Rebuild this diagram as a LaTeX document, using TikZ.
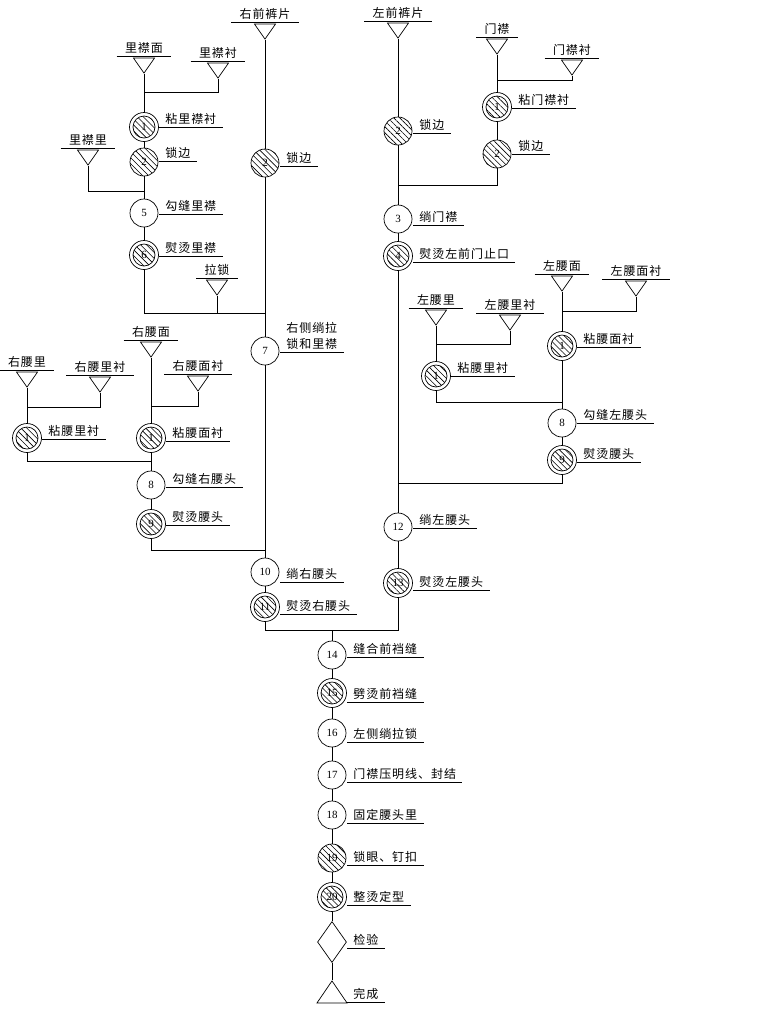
\documentclass[tikz,border=0pt]{standalone}
\usepackage{fontspec}
\setmainfont{Liberation Serif}
\newfontfamily\cjk[LetterSpace=8]{Noto Sans CJK SC}
\usetikzlibrary{shapes.geometric,patterns.meta}
\begin{document}
\begin{tikzpicture}[x=1pt,y=-1pt,line width=0.7pt,
  hatch/.style={pattern={Lines[angle=-45,distance=4.2pt,line width=0.6pt]}},
  plain/.style={circle,draw,minimum size=28pt,inner sep=0pt,font=\fontsize{11}{12}\selectfont},
  hcirc/.style={plain,hatch},
  dcirc/.style={plain,minimum size=29pt,path picture={
      \fill[hatch] (path picture bounding box.center) circle (11pt);
      \draw[line width=0.7pt] (path picture bounding box.center) circle (11pt);}},
  tri/.style={isosceles triangle,isosceles triangle stretches,shape border rotate=-90,
      draw,minimum width=21pt,minimum height=15pt,inner sep=0pt,anchor=apex},
  lbl/.style={anchor=south west,inner xsep=6pt,inner ysep=2pt,align=left,
      font=\cjk\fontsize{12}{16}\selectfont,
      append after command={(\tikzlastnode.south west) edge (\tikzlastnode.south east)}},
  mat/.style={anchor=south,inner xsep=8pt,inner ysep=2pt,
      font=\cjk\fontsize{12}{14}\selectfont,
      append after command={(\tikzlastnode.south west) edge (\tikzlastnode.south east)}}]
\useasboundingbox (0,0) rectangle (760,1013);

% ---------- triangles (materials) ----------
\node[tri] (tRF) at (265,40) {};
\node[tri] (tLM) at (144,74) {};
\node[tri] (tLC) at (218,79) {};
\node[tri] (tLL) at (88,166) {};
\node[tri] (tZ) at (217,296) {};
\node[tri] (tLF) at (398,39) {};
\node[tri] (tMJ) at (497,55) {};
\node[tri] (tMJC) at (572,76) {};
\node[tri] (tLWM) at (562,292) {};
\node[tri] (tLWMC) at (636,297) {};
\node[tri] (tLWL) at (436,326) {};
\node[tri] (tLWLC) at (510,331) {};
\node[tri] (tRWL) at (27,388) {};
\node[tri] (tRWLC) at (100,393) {};
\node[tri] (tRWM) at (151,358) {};
\node[tri] (tRWMC) at (198,392) {};

\node[mat] (mRF) at ([shift={(0,-18)}]tRF.apex) {右前裤片};
\node[mat] (mLM) at ([shift={(0,-18)}]tLM.apex) {里襟面};
\node[mat] (mLC) at ([shift={(0,-18)}]tLC.apex) {里襟衬};
\node[mat] (mLL) at ([shift={(0,-18)}]tLL.apex) {里襟里};
\node[mat] (mZ) at ([shift={(0,-18)}]tZ.apex) {拉锁};
\node[mat] (mLF) at ([shift={(0,-18)}]tLF.apex) {左前裤片};
\node[mat] (mMJ) at ([shift={(0,-18)}]tMJ.apex) {门襟};
\node[mat] (mMJC) at ([shift={(0,-18)}]tMJC.apex) {门襟衬};
\node[mat] (mLWM) at ([shift={(0,-18)}]tLWM.apex) {左腰面};
\node[mat] (mLWMC) at ([shift={(0,-18)}]tLWMC.apex) {左腰面衬};
\node[mat] (mLWL) at ([shift={(0,-18)}]tLWL.apex) {左腰里};
\node[mat] (mLWLC) at ([shift={(0,-18)}]tLWLC.apex) {左腰里衬};
\node[mat] (mRWL) at ([shift={(0,-18)}]tRWL.apex) {右腰里};
\node[mat] (mRWLC) at ([shift={(0,-18)}]tRWLC.apex) {右腰里衬};
\node[mat] (mRWM) at ([shift={(0,-18)}]tRWM.apex) {右腰面};
\node[mat] (mRWMC) at ([shift={(0,-18)}]tRWMC.apex) {右腰面衬};

% ---------- process circles ----------
\node[dcirc] (c1a) at (144,127) {1};
\node[hcirc] (c2a) at (144,162) {2};
\node[plain] (c5) at (144,213) {5};
\node[dcirc] (c6) at (144,255) {6};
\node[hcirc] (c2R) at (265,163) {2};
\node[plain] (c7) at (265,351) {7};
\node[plain] (c10) at (265,572) {10};
\node[dcirc] (c11) at (265,607) {11};
\node[hcirc] (c2L) at (398,131) {2};
\node[dcirc] (c1M) at (497,107) {1};
\node[hcirc] (c2M) at (497,154) {2};
\node[plain] (c3) at (398,219) {3};
\node[dcirc] (c4) at (398,256) {4};
\node[dcirc] (c1LW) at (562,346) {1};
\node[dcirc] (c1LL) at (436,376) {1};
\node[plain] (c8L) at (562,423) {8};
\node[dcirc] (c9L) at (562,460) {9};
\node[plain] (c12) at (398,527) {12};
\node[dcirc] (c13) at (398,583) {13};
\node[dcirc] (c1RL) at (27,438) {1};
\node[dcirc] (c1RM) at (151,438) {1};
\node[plain] (c8R) at (151,485) {8};
\node[dcirc] (c9R) at (151,524) {9};
\node[plain] (c14) at (332,655) {14};
\node[dcirc] (c15) at (332,693) {15};
\node[plain] (c16) at (332,733) {16};
\node[plain] (c17) at (332,775) {17};
\node[plain] (c18) at (332,815) {18};
\node[hcirc] (c19) at (332,858) {19};
\node[dcirc] (c20) at (332,897) {20};
\node[diamond,draw,minimum width=29pt,minimum height=41pt,inner sep=0pt] (insp) at (332,942) {};
\node[isosceles triangle,isosceles triangle stretches,shape border rotate=90,draw,
      minimum width=30pt,minimum height=22pt,inner sep=0pt,anchor=apex] (done) at (332,980) {};

% ---------- labels ----------
\node[lbl] (l1a) at (159,127) {粘里襟衬};
\node[lbl] (l2a) at (159,161) {锁边};
\node[lbl] (l5) at (159,214) {勾缝里襟};
\node[lbl] (l6) at (159,256) {熨烫里襟};
\node[lbl] (l2R) at (280,166) {锁边};
\node[lbl] (l7) at (280,352) {右侧绱拉\\锁和里襟};
\node[lbl] (l10) at (280,582) {绱右腰头};
\node[lbl] (l11) at (280,614) {熨烫右腰头};
\node[lbl] (l2L) at (413,133) {锁边};
\node[lbl] (l1M) at (512,108) {粘门襟衬};
\node[lbl] (l2M) at (512,154) {锁边};
\node[lbl] (l3) at (413,225) {绱门襟};
\node[lbl] (l4) at (413,262) {熨烫左前门止口};
\node[lbl] (l1LW) at (577,347) {粘腰面衬};
\node[lbl] (l1LL) at (451,376) {粘腰里衬};
\node[lbl] (l8L) at (577,423) {勾缝左腰头};
\node[lbl] (l9L) at (577,462) {熨烫腰头};
\node[lbl] (l12) at (413,528) {绱左腰头};
\node[lbl] (l13) at (413,590) {熨烫左腰头};
\node[lbl] (l1RL) at (42,439) {粘腰里衬};
\node[lbl] (l1RM) at (166,441) {粘腰面衬};
\node[lbl] (l8R) at (166,487) {勾缝右腰头};
\node[lbl] (l9R) at (166,525) {熨烫腰头};
\node[lbl] (l14) at (347,657) {缝合前裆缝};
\node[lbl] (l15) at (347,702) {劈烫前裆缝};
\node[lbl] (l16) at (347,742) {左侧绱拉锁};
\node[lbl] (l17) at (347,782) {门襟压明线、封结};
\node[lbl] (l18) at (347,823) {固定腰头里};
\node[lbl] (l19) at (347,865) {锁眼、钉扣};
\node[lbl] (l20) at (347,905) {整烫定型};
\node[lbl] (lin) at (347,948) {检验};
\node[lbl] (ldone) at (347,1002) {完成};

% ---------- junctions ----------
\coordinate (j1) at (144,92);
\coordinate (j2) at (144,191);
\coordinate (j3) at (265,313);
\coordinate (j4) at (217,313);
\coordinate (j5) at (398,185);
\coordinate (j6) at (497,80);
\coordinate (j7) at (398,483);
\coordinate (j8) at (562,402);
\coordinate (j9) at (562,311);
\coordinate (j10) at (436,344);
\coordinate (j11) at (27,407);
\coordinate (j12) at (151,406);
\coordinate (j13) at (151,461);
\coordinate (j14) at (265,550);
\coordinate (jb) at (332,630);

% ---------- connectors ----------
\draw (tRF.apex) -- (c2R) -- (c7) -- (c10) -- (c11);
\draw (c11) |- (jb) -| (c13);
\draw (jb) -- (c14) -- (c15) -- (c16) -- (c17) -- (c18) -- (c19) -- (c20) -- (insp) -- (done.apex);

\draw (tLM.apex) -- (c1a) -- (c2a) -- (c5) -- (c6);
\draw (tLC.apex) |- (j1);
\draw (tLL.apex) |- (j2);
\draw (c6) |- (j3);
\draw (tZ.apex) -- (j4);

\draw (tLF.apex) -- (c2L) -- (c3) -- (c4) -- (c12) -- (c13);
\draw (tMJ.apex) -- (c1M) -- (c2M);
\draw (tMJC.apex) |- (j6);
\draw (c2M) |- (j5);
\draw (tLWM.apex) -- (c1LW) -- (c8L) -- (c9L);
\draw (tLWMC.apex) |- (j9);
\draw (tLWL.apex) -- (c1LL);
\draw (tLWLC.apex) |- (j10);
\draw (c1LL) |- (j8);
\draw (c9L) |- (j7);

\draw (tRWL.apex) -- (c1RL);
\draw (tRWLC.apex) |- (j11);
\draw (tRWM.apex) -- (c1RM) -- (c8R) -- (c9R);
\draw (tRWMC.apex) |- (j12);
\draw (c1RL) |- (j13);
\draw (c9R) |- (j14);
\end{tikzpicture}
\end{document}
